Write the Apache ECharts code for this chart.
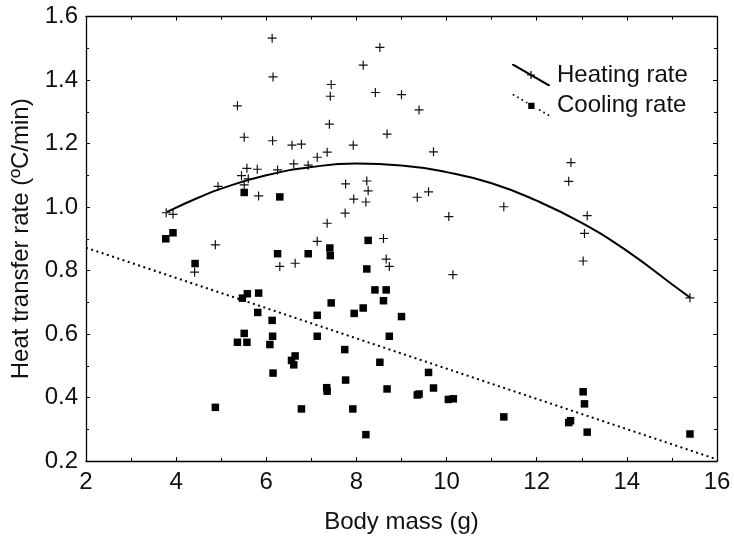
<!DOCTYPE html>
<html>
<head>
<meta charset="utf-8">
<script src="https://cdn.jsdelivr.net/npm/echarts@6/dist/echarts.min.js"></script>
<style>
html,body{margin:0;padding:0;background:#fff;}
#chart{width:734px;height:539px;}
</style>
</head>
<body>
<div id="chart"></div>
<script>
// Heating rate observations [body mass (g), rate (ºC/min)]
var heatingMass = [6.13,6.15,5.36,5.51,6.14,6.57,6.78,7.44,7.42,7.40,7.35,7.13,6.61,6.93,6.25,5.57,5.80,5.45,5.60,4.93,5.51,5.83,3.78,3.93,7.35,
  8.52,8.15,8.42,9.00,9.39,8.68,7.93,9.71,7.76,8.23,8.26,7.94,8.21,9.35,9.60,7.75,11.27,10.05,
  7.13,4.87,6.30,6.64,4.41,8.60,8.66,8.73,10.14,12.76,12.71,13.12,13.06,13.03,15.40];
var heatingRate = [1.532,1.410,1.319,1.220,1.209,1.195,1.198,1.386,1.349,1.261,1.173,1.157,1.136,1.132,1.117,1.122,1.119,1.099,1.089,1.065,1.070,1.035,0.982,0.977,0.949,
  1.503,1.447,1.361,1.354,1.306,1.230,1.195,1.174,1.073,1.082,1.051,1.025,1.016,1.031,1.048,0.981,1.001,0.970,
  0.892,0.881,0.813,0.823,0.795,0.901,0.836,0.813,0.787,1.140,1.081,0.973,0.917,0.830,0.714];
// Cooling rate observations
var coolingMass = [3.77,3.93,4.42,5.51,6.30,6.25,6.93,7.41,7.42,5.47,5.58,5.83,5.81,6.13,7.44,7.13,5.51,5.36,5.57,6.14,6.08,7.13,6.64,6.56,6.61,6.15,7.34,7.35,4.87,6.78,
  8.26,8.23,8.41,8.66,8.60,8.15,7.95,9.00,8.73,7.74,8.52,9.60,7.76,8.68,9.71,9.35,9.39,10.04,10.15,7.92,8.21,11.27,13.03,13.06,12.75,12.71,13.12,15.40];
var coolingRate = [0.900,0.919,0.822,1.046,1.032,0.853,0.853,0.871,0.847,0.713,0.727,0.729,0.668,0.643,0.698,0.659,0.602,0.574,0.574,0.593,0.567,0.593,0.531,0.517,0.503,0.477,0.431,0.420,0.369,0.364,
  0.895,0.805,0.739,0.739,0.705,0.682,0.665,0.655,0.593,0.551,0.511,0.479,0.455,0.427,0.430,0.408,0.411,0.394,0.396,0.364,0.283,0.339,0.418,0.380,0.327,0.321,0.291,0.285];
// Fitted curves
var heatingFitMass = [3.8,4.5,5,6,7,8,9,10,11,12,13,14,15,15.4];
var heatingFitRate = [0.985,1.030,1.058,1.100,1.126,1.137,1.131,1.110,1.075,1.020,0.950,0.862,0.757,0.715];
var coolingFitMass = [2,16];
var coolingFitRate = [0.872,0.205];
var xTicks = [2,4,6,8,10,12,14,16];
var yTicks = [0.2,0.4,0.6,0.8,1.0,1.2,1.4,1.6];

function pairs(a,b){return a.map(function(v,i){return [v,b[i]];});}

var FONT = '"Liberation Sans", Arial, Helvetica, sans-serif';
var INK = '#000';
var TXT = '#111';
var plusPath = 'path://M0,4h9v1.2h-9z M3.9,0h1.2v9.2h-1.2z';

// legend icons (38x22 box)
var heatIcon = 'path://M0,0L2,0L38,20.8L38,22L36,22L0,1.2Z M15,10.4h8v1.2h-8z M18.4,7h1.2v8h-1.2z';
var coolIcon = (function(){
  var p = 'path://';
  for (var k=0;k<=8;k++){
    var t=k/8, x=36*t, y=21*t;
    if (x>14 && x<24) continue;
    p += 'M'+x.toFixed(2)+','+y.toFixed(2)+'h1.7v1.7h-1.7z ';
  }
  p += 'M16,9h6.5v6.5h-6.5z';
  return p;
})();

var chart = echarts.init(document.getElementById('chart'));
var axisLine = {show:true, lineStyle:{color:INK, width:1.3}};
chart.setOption({
  animation:false,
  backgroundColor:'#fff',
  textStyle:{fontFamily:FONT},
  grid:{left:86, right:17, top:16.6, bottom:73, containLabel:false},
  legend:{
    left:507, top:58, orient:'vertical', itemGap:6,
    itemWidth:38, itemHeight:22,
    textStyle:{fontFamily:FONT, fontSize:24, color:TXT, padding:[0,0,0,2]},
    data:[{name:'Heating rate', icon:heatIcon, itemStyle:{color:INK, opacity:1}},
          {name:'Cooling rate', icon:coolIcon, itemStyle:{color:INK, opacity:1}}]
  },
  xAxis:[{
    type:'value', min:xTicks[0], max:xTicks[xTicks.length-1], interval:2,
    name:'Body mass (g)', nameLocation:'middle', nameGap:49,
    nameTextStyle:{fontSize:24, color:TXT, fontFamily:FONT},
    axisLine:axisLine,
    axisTick:{show:true, inside:true, length:4, lineStyle:{color:INK}},
    minorTick:{show:true, splitNumber:2, length:3, lineStyle:{color:INK}},
    axisLabel:{fontSize:24, color:TXT, margin:9, fontFamily:FONT},
    splitLine:{show:false}
  },{
    type:'value', position:'top', min:xTicks[0], max:xTicks[xTicks.length-1], interval:2,
    axisLine:axisLine,
    axisTick:{show:true, inside:true, length:4, lineStyle:{color:INK}},
    minorTick:{show:true, splitNumber:2, length:3, lineStyle:{color:INK}},
    axisLabel:{show:false}, splitLine:{show:false}
  }],
  yAxis:[{
    type:'value', min:yTicks[0], max:yTicks[yTicks.length-1], interval:0.2,
    name:'Heat transfer rate (ºC/min)', nameLocation:'middle', nameGap:44,
    nameTextStyle:{fontSize:24, color:TXT, fontFamily:FONT},
    axisLine:axisLine,
    axisTick:{show:true, inside:true, length:4, lineStyle:{color:INK}},
    minorTick:{show:true, splitNumber:2, length:3, lineStyle:{color:INK}},
    axisLabel:{fontSize:24, color:TXT, margin:8, fontFamily:FONT,
      formatter:function(v){return v.toFixed(1);}},
    splitLine:{show:false}
  },{
    type:'value', position:'right', min:yTicks[0], max:yTicks[yTicks.length-1], interval:0.2,
    axisLine:axisLine,
    axisTick:{show:true, inside:true, length:4, lineStyle:{color:INK}},
    minorTick:{show:true, splitNumber:2, length:3, lineStyle:{color:INK}},
    axisLabel:{show:false}, splitLine:{show:false}
  }],
  series:[
    {name:'Heating rate', type:'line', data:pairs(heatingFitMass, heatingFitRate),
     smooth:true, showSymbol:false, symbol:'none', z:3,
     lineStyle:{color:INK, width:2}, itemStyle:{color:INK}},
    {name:'Cooling rate', type:'line', data:pairs(coolingFitMass, coolingFitRate),
     showSymbol:false, symbol:'none', z:3,
     lineStyle:{color:INK, width:2, type:[2,3.5]}, itemStyle:{color:INK}},
    {name:'Heating rate', type:'scatter', data:pairs(heatingMass, heatingRate),
     symbol:plusPath, symbolSize:9, z:4, itemStyle:{color:'#111', opacity:1}},
    {name:'Cooling rate', type:'scatter', data:pairs(coolingMass, coolingRate),
     symbol:'rect', symbolSize:7.5, z:4, itemStyle:{color:INK, opacity:1}}
  ]
});
</script>
</body>
</html>
